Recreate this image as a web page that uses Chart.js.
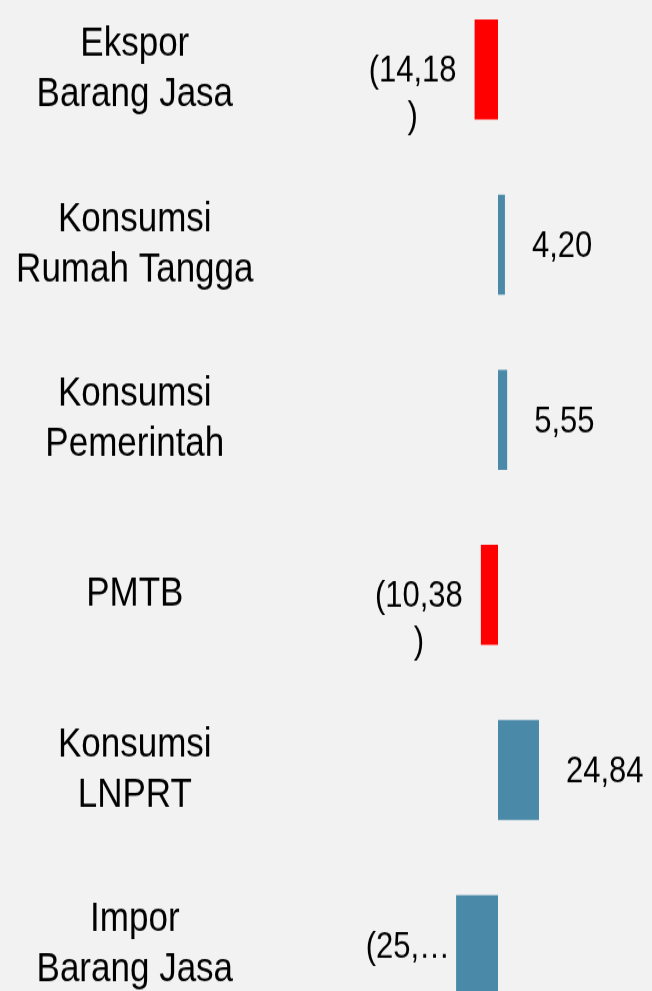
<!DOCTYPE html>
<html>
<head>
<meta charset="utf-8">
<script src="https://cdn.jsdelivr.net/npm/chart.js@4"></script>
<style>
  html, body { margin: 0; padding: 0; background: #f2f2f2; overflow: hidden; width: 652px; height: 991px; }
  #wrap { position: absolute; left: 0; top: -18px; width: 652px; height: 898px; transform: scaleY(1.17); transform-origin: 0 0; }
</style>
</head>
<body>
<div id="wrap"><canvas id="chart"></canvas></div>
<script>
const categories = [['Ekspor', 'Barang Jasa'], ['Konsumsi', 'Rumah Tangga'], ['Konsumsi', 'Pemerintah'], 'PMTB', ['Konsumsi', 'LNPRT'], ['Impor', 'Barang Jasa']];
const values = [-14.18, 4.20, 5.55, -10.38, 24.84, -25.40];
const valueText = [['(14,18', ')'], ['4,20'], ['5,55'], ['(10,38', ')'], ['24,84'], ['(25,\u2026']];
const barColors = ['#ff0000', '#4a8aa8', '#4a8aa8', '#ff0000', '#4a8aa8', '#4a8aa8'];

// labels next to the bars, the way the original slide shows them
const valueLabels = {
    id: 'valueLabels',
    afterDatasetsDraw(chart) {
        const ctx = chart.ctx;
        const meta = chart.getDatasetMeta(0);
        ctx.save();
        ctx.font = '31px "Liberation Sans", Arial, sans-serif';
        ctx.fillStyle = '#000';
        ctx.textBaseline = 'middle';
        meta.data.forEach((bar, i) => {
            const lines = valueText[i];
            let x, align;
            if (values[i] >= 0) { x = bar.x + 27; align = 'left'; }
            else if (lines[0].endsWith('\u2026')) { x = bar.x - 6; align = 'right'; }
            else { x = bar.x - 62; align = 'center'; }
            ctx.textAlign = align;
            lines.forEach((t, j) => ctx.fillText(t, x, bar.y + 2 + j * 39));
        });
        ctx.restore();
    }
};

new Chart(document.getElementById('chart'), {
    type: 'bar',
    data: {
        labels: categories,
        datasets: [{
            data: values,
            backgroundColor: barColors,
            borderWidth: 0,
            categoryPercentage: 1,
            barPercentage: 0.571
        }]
    },
    options: {
        indexAxis: 'y',
        responsive: true,
        maintainAspectRatio: false,
        devicePixelRatio: 1,
        animation: false,
        layout: { padding: { left: 0, right: 51.7, top: 0, bottom: 0 } },
        plugins: { legend: { display: false }, tooltip: { enabled: false } },
        scales: {
            x: { display: false, min: -30, max: 62 },
            y: {
                grid: { display: false, drawTicks: false },
                border: { display: false },
                afterFit: (s) => { s.width = 448.5; s.paddingTop = 0; s.paddingBottom = 0; },
                ticks: {
                    crossAlign: 'center',
                    padding: 195,
                    color: '#000',
                    font: { family: '"Liberation Sans", Arial, sans-serif', size: 35, lineHeight: 1.23 }
                }
            }
        }
    },
    plugins: [valueLabels]
});
</script>
</body>
</html>
